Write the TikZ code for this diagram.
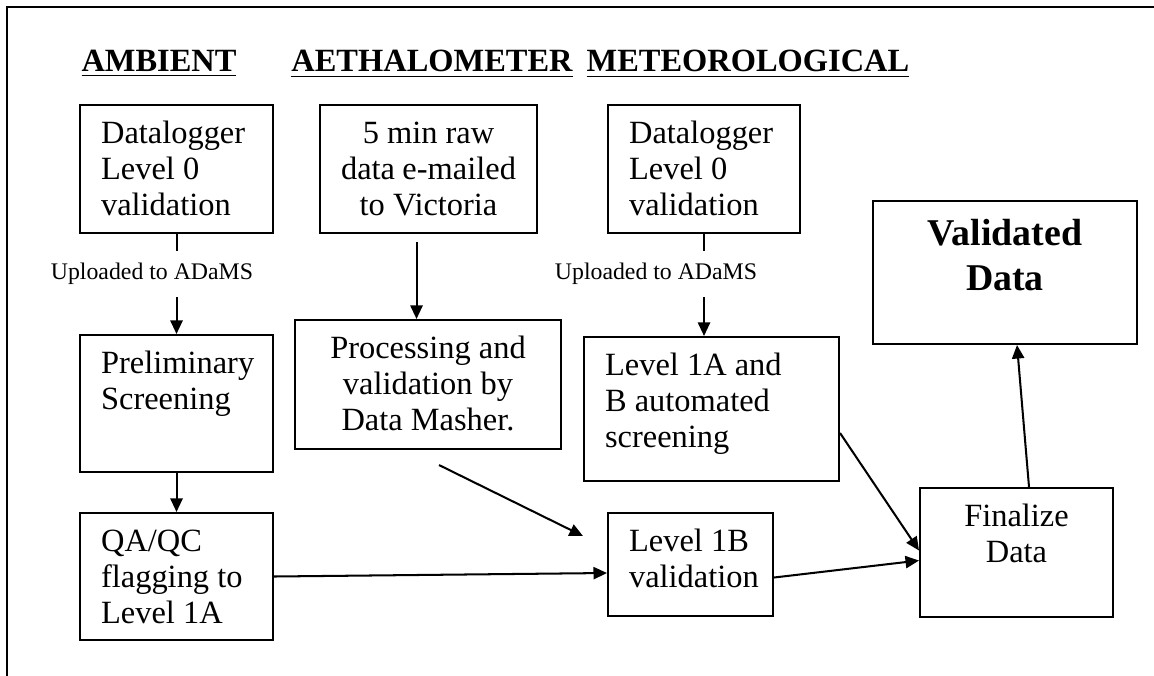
\documentclass[tikz,border=0pt]{standalone}
\usepackage{fontspec}
\setmainfont{Liberation Serif}
\usetikzlibrary{arrows.meta,calc}
\newlength{\px}\setlength{\px}{0.37pt}
\newcommand{\cell}[4]{\parbox[t][\dimexpr#2\px-10pt\relax][t]{\dimexpr#1\px-15.6pt\relax}{#3\strut#4}}
\tikzset{
  box/.style={draw, line width=0.75pt, anchor=north west,
    inner xsep=7.8pt, inner ysep=5pt, font=\fontsize{12}{13.3}\selectfont},
  hdr/.style={anchor=base, font=\fontsize{12}{14}\selectfont\bfseries},
  lbl/.style={fill=white, inner xsep=3pt, minimum height=17pt,
    font=\fontsize{8.8}{10}\selectfont},
  arr/.style={-{Triangle[length=5pt,width=4.5pt]}, line width=0.75pt},
}
\begin{document}
\begin{tikzpicture}[x=0.37pt,y=-0.37pt]
\useasboundingbox (0,0) rectangle (1154,676);
\draw[line width=1.1pt] (7,676) -- (7,7) -- (1154,7);

%% headings
\node[hdr] (hA) at (159,72) {\underline{AMBIENT}};
\node[hdr] (hB) at (432,72) {\underline{AETHALOMETER}};
\node[hdr] (hC) at (748,72) {\underline{METEOROLOGICAL}};

%% ambient
\node[box] (A1) at (79,104) {\cell{193}{128}{\raggedright}{Datalogger\\Level 0\\validation}};
\node[box] (A2) at (79,334) {\cell{193}{137}{\raggedright}{Preliminary\\Screening}};
\node[box] (A3) at (79,512) {\cell{193}{127}{\raggedright}{QA/QC\\flagging to\\Level 1A}};

%% aethalometer
\node[box] (B1) at (319,104) {\cell{217}{128}{\centering}{5 min raw\\data e-mailed\\to Victoria}};
\node[box] (B2) at (294,319) {\cell{266}{129}{\centering}{Processing and\\validation by\\Data Masher.}};
\node[box] (B3) at (607,512) {\cell{165}{103}{\raggedright}{Level 1B\\validation}};

%% meteorological
\node[box] (C1) at (607,104) {\cell{192}{128}{\raggedright}{Datalogger\\Level 0\\validation}};
\node[box] (C2) at (583,336) {\cell{255}{144}{\raggedright}{Level 1A and\\B automated\\screening}};

%% final
\node[box] (F) at (919,487) {\cell{193}{129}{\centering}{Finalize\\Data}};
\node[box, font=\fontsize{14}{16.6}\selectfont\bfseries] (V) at (872,200)
  {\cell{264}{143}{\centering}{Validated\\Data}};

\coordinate (b1out) at ($(B1.south)+(-12,8)$);
\coordinate (b2out) at ($(B2.south west)+(145,15)$);
\coordinate (b3in)  at ($(B3.west)+(-24,-28.5)$);

\draw[arr] (A1.south) -- (A2.north);
\draw[arr] (A2.south) -- (A3.north);
\draw[arr] (b1out) -- (b1out |- B2.north);
\draw[arr] (C1.south) -- (C1.south |- C2.north);
\draw[arr] (A3.east) -- ($(B3.west)+(0,8.5)$);
\draw[arr] (b2out) -- (b3in);
\draw[arr] ($(C2.east)+(0,24)$) -- ($(F.west)+(0,-2)$);
\draw[arr] ($(B3.east)+(0,13)$) -- ($(F.west)+(0,8)$);
\draw[arr] ($(F.north)+(12.5,0)$) -- ($(V.south)+(12,0)$);

\node[lbl] (uA) at (152,274) {Uploaded to ADaMS};
\node[lbl] (uC) at (656,274) {Uploaded to ADaMS};

\end{tikzpicture}
\end{document}
